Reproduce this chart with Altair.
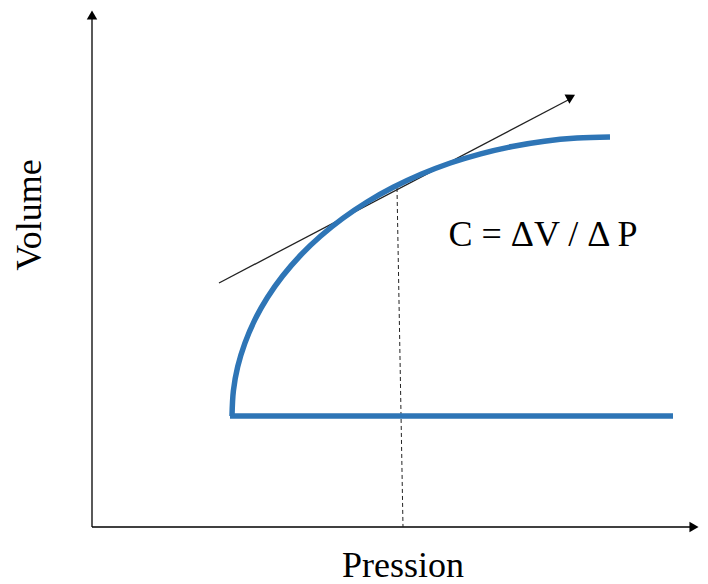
import altair as alt
import pandas as pd

# Coordinates: pressure (x) and volume (y), origin at the axes corner
curve_p = [140, 141.4, 145.7, 152.9, 162.8, 175.4, 190.6, 208.3, 228.4, 250.7,
           275, 301.2, 329, 358.3, 388.7, 420.2, 452.4, 485, 518]
curve_v = [111, 136.2, 160.3, 183.9, 207.1, 229.5, 251, 271.5, 290.7, 308.6,
           325, 339.7, 352.7, 364, 373.2, 380.5, 385.8, 388.9, 390]

base_p = [138, 581]
base_v = [111, 111]

# Axes (with arrows), tangent and the dashed drop line
seg_name = ["axis_y", "axis_x", "tangent", "drop"]
seg_x1 = [0, 0, 127, 305]
seg_y1 = [0, 0, 244, 339]
seg_x2 = [0, 600, 478, 311]
seg_y2 = [510, 0, 428, 0]

arrow_x = [0, 602, 479]
arrow_y = [512, 0, 430]
arrow_shape = ["triangle-up", "triangle-right", "triangle-right"]
arrow_angle = [0, 0, 332]

labels = ["C = ΔV / Δ P", "Pression", "Volume"]
label_x = [451, 311, -51]
label_y = [281, -50, 312]
label_angle = [0, 0, 270]

X_DOMAIN = [-84, 608]
Y_DOMAIN = [-49, 519]

curve_df = pd.DataFrame({"p": curve_p, "v": curve_v, "i": list(range(len(curve_p)))})
base_df = pd.DataFrame({"p": base_p, "v": base_v, "i": [0, 1]})
seg_df = pd.DataFrame({"name": seg_name, "x1": seg_x1, "y1": seg_y1,
                       "x2": seg_x2, "y2": seg_y2})

xs = alt.Scale(domain=X_DOMAIN, nice=False, zero=False)
ys = alt.Scale(domain=Y_DOMAIN, nice=False, zero=False)


def seg_chart(names, **mark_kw):
    return alt.Chart(seg_df[seg_df.name.isin(names)]).mark_rule(**mark_kw).encode(
        x=alt.X("x1:Q", scale=xs, axis=None), y=alt.Y("y1:Q", scale=ys, axis=None),
        x2="x2:Q", y2="y2:Q")


axes = seg_chart(["axis_y", "axis_x"], color="black", strokeWidth=1.3)
tangent = seg_chart(["tangent"], color="#222222", strokeWidth=1.3)
drop = seg_chart(["drop"], color="#222222", strokeWidth=1, strokeDash=[4, 3])

curve = alt.Chart(curve_df).mark_line(color="#2E75B6", strokeWidth=5.5,
                                      interpolate="catmull-rom").encode(
    x=alt.X("p:Q", scale=xs, axis=None), y=alt.Y("v:Q", scale=ys, axis=None), order="i:Q")

base = alt.Chart(base_df).mark_line(color="#2E75B6", strokeWidth=5.5).encode(
    x=alt.X("p:Q", scale=xs, axis=None), y=alt.Y("v:Q", scale=ys, axis=None), order="i:Q")

arrow_layers = []
for sx, sy, shp, ang in zip(arrow_x, arrow_y, arrow_shape, arrow_angle):
    d = pd.DataFrame({"x": [sx], "y": [sy]})
    arrow_layers.append(
        alt.Chart(d).mark_point(shape=shp, angle=ang, filled=True, color="black",
                                size=110, opacity=1, strokeWidth=0).encode(
            x=alt.X("x:Q", scale=xs, axis=None), y=alt.Y("y:Q", scale=ys, axis=None)))

text_layers = []
for t, tx, ty, ta in zip(labels, label_x, label_y, label_angle):
    d = pd.DataFrame({"x": [tx], "y": [ty], "t": [t]})
    text_layers.append(
        alt.Chart(d).mark_text(font="Liberation Serif", fontSize=36, color="black",
                               align="center", baseline="alphabetic", angle=ta).encode(
            x=alt.X("x:Q", scale=xs, axis=None), y=alt.Y("y:Q", scale=ys, axis=None),
            text="t:N"))

chart = alt.layer(axes, tangent, drop, base, curve, *arrow_layers, *text_layers).properties(
    width=692, height=568,
    padding={"left": 0, "top": 0, "right": 0, "bottom": 8},
    autosize=alt.AutoSizeParams(type="none"),
).configure_view(stroke=None)

chart.save("out.html", embed_options={"renderer": "svg", "actions": False})
